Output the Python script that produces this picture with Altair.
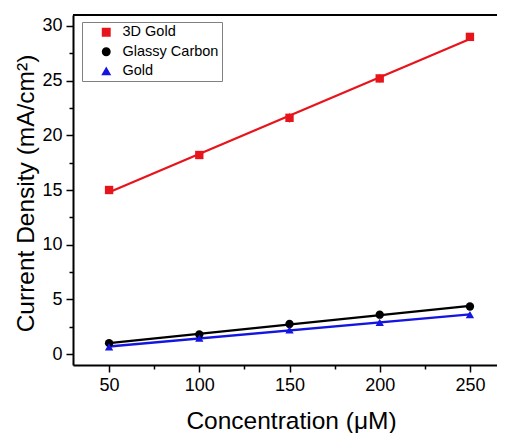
import altair as alt
import pandas as pd

conc = [50, 100, 150, 200, 250]
series_names = ["3D Gold", "Glassy Carbon", "Gold"]
gold3d = [15.0, 18.2, 21.6, 25.2, 29.0]
gold3d_err = [0.3, 0.2, 0.45, 0.4, 0.2]
glassy = [1.0, 1.8, 2.75, 3.6, 4.35]
glassy_err = [0.1, 0.1, 0.1, 0.15, 0.15]
gold = [0.65, 1.45, 2.2, 2.9, 3.6]
gold_err = [0.1, 0.1, 0.1, 0.15, 0.2]
colors = ["#e8141b", "#000000", "#1515e0"]
shapes = ["square", "circle", "triangle-up"]
x_ticks = [50, 75, 100, 125, 150, 175, 200, 225, 250]
y_ticks = [0, 2.5, 5, 7.5, 10, 12.5, 15, 17.5, 20, 22.5, 25, 27.5, 30]

rows = []
for name, vals, errs in zip(series_names, [gold3d, glassy, gold], [gold3d_err, glassy_err, gold_err]):
    for c, v, e in zip(conc, vals, errs):
        rows.append({"series": name, "conc": c, "val": v, "lo": v - e, "hi": v + e})
df = pd.DataFrame(rows)

FONT = "Liberation Sans"
XT = "Concentration (μM)"
YT = "Current Density (mA/cm²)"
xscale = alt.Scale(domain=[30, 265], nice=False, zero=False)
yscale = alt.Scale(domain=[-1, 31], nice=False, zero=False)
cscale = alt.Scale(domain=series_names, range=colors)
sscale = alt.Scale(domain=series_names, range=shapes)

x_axis = alt.Axis(
    values=x_ticks,
    labelExpr="datum.value % 50 === 0 ? datum.label : ''",
    tickSize={"condition": {"test": "datum.value % 50 === 0", "value": 7}, "value": 4},
    labelFontSize=18, labelFont=FONT, labelColor="black", labelPadding=4,
    titleFontSize=24.5, titleBaseline="alphabetic", titleY=63, titleX=218, titleAlign="center",
)
y_axis = alt.Axis(
    values=y_ticks,
    labelExpr="datum.value % 5 === 0 ? datum.label : ''",
    tickSize={"condition": {"test": "datum.value % 5 === 0", "value": 7}, "value": 4},
    labelFontSize=18, labelFont=FONT, labelColor="black", labelPadding=4,
    titleFontSize=24.5, titleBaseline="alphabetic", titleX=-40, titleY=178, titleAngle=270,
)

legend = alt.Legend(
    title=None, orient="none", legendX=9, legendY=7, strokeColor="#808080",
    padding=3, symbolOffset=14, labelOffset=9, labelFontSize=14.5, labelFont=FONT,
    labelColor="black", symbolSize=55, symbolOpacity=1, rowPadding=4.5, fillColor="white",
)

base = alt.Chart(df)
X = alt.X("conc:Q", scale=xscale, axis=x_axis, title=XT)
C = alt.Color("series:N", scale=cscale, legend=legend, title=None)

lines = base.transform_regression("conc", "val", groupby=["series"]).mark_line(strokeWidth=2.3).encode(
    x=X,
    y=alt.Y("val:Q", scale=yscale, axis=y_axis, title=YT),
    color=C,
)

errs = base.mark_rule(strokeWidth=1.2, opacity=0.6).encode(
    x=X,
    y=alt.Y("lo:Q", scale=yscale, axis=y_axis, title=YT),
    y2="hi:Q",
    color=C,
)

points = base.mark_point(filled=True, size=70, opacity=1).encode(
    x=X,
    y=alt.Y("val:Q", scale=yscale, axis=y_axis, title=YT),
    color=C,
    shape=alt.Shape("series:N", scale=sscale, legend=legend, title=None),
)

top_border = alt.Chart(pd.DataFrame({"k": [0]})).mark_rule(color="black", strokeWidth=2).encode(
    x=alt.value(0), x2=alt.value(424), y=alt.value(0)
)

chart = alt.layer(lines, errs, points, top_border).properties(
    width=424, height=350,
    padding={"left": 65, "top": 7, "right": 0, "bottom": 68},
    autosize=alt.AutoSizeParams(type="none"),
).configure_view(stroke=None).configure_axis(
    tickWidth=1.5, tickColor="black", domainColor="black", domainWidth=2,
    labelFontSize=18, labelColor="black", labelFont=FONT, labelPadding=4,
    titleFontSize=24.5, titleFont=FONT, titleFontWeight="normal", titleColor="black", grid=False,
)

chart.save("out.html", embed_options={"renderer": "svg", "actions": False})
